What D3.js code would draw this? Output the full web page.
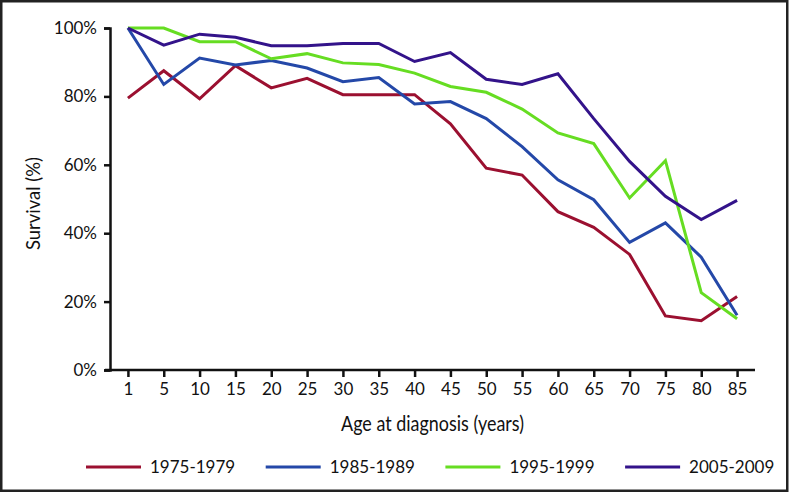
<!DOCTYPE html>
<html><head><meta charset="utf-8">
<script src="https://cdn.jsdelivr.net/npm/d3@7"></script>
<style>body{margin:0;background:#fff}svg{display:block}</style>
</head><body>
<svg id="c" width="790" height="493"></svg>
<script>
const ages = ["1","5","10","15","20","25","30","35","40","45","50","55","60","65","70","75","80","85"];
const periods = ["1975-1979","1985-1989","1995-1999","2005-2009"];
const s1975 = [79.5,87.5,79.3,89,82.5,85.3,80.5,80.5,80.5,72,59,57,46.3,41.7,33.8,15.8,14.4,21.5];
const s1985 = [100,83.5,91.2,89.2,90.5,88.3,84.3,85.5,77.8,78.5,73.5,65.3,55.6,49.8,37.3,43,33,16];
const s1995 = [100,100,96,96,91,92.5,89.8,89.3,86.8,82.9,81.2,76.3,69.3,66.2,50.3,61.2,22.6,15];
const s2005 = [100,95,98.2,97.3,94.8,94.8,95.5,95.5,90.2,92.8,85,83.5,86.6,73.5,61,50.8,44,49.6];
const yTicks = [0,20,40,60,80,100];
const colors = ["#9b1030","#2448a8","#66dd22","#33138a"];
const seriesList = [s1975,s1985,s1995,s2005];

(function(){
const svg = d3.select("#c");
svg.append("rect").attr("x",1.25).attr("y",1.25).attr("width",786).attr("height",489.5)
  .attr("fill","#fff").attr("stroke","#222").attr("stroke-width",2.5);

const mL=110,mR=755,mT=28,mB=370;
const x = d3.scalePoint().domain(ages).range([mL,mR]).padding(0.5);
const y = d3.scaleLinear().domain([0,100]).range([mB,mT]);

const fontT = "Lato, 'Open Sans', sans-serif";
const gx = svg.append("g").attr("transform",`translate(0,${mB})`)
  .call(d3.axisBottom(x).tickSize(7).tickPadding(6));
const gy = svg.append("g").attr("transform",`translate(${mL},0)`)
  .call(d3.axisLeft(y).tickValues(yTicks).tickFormat(d=>d+"%").tickSize(6).tickPadding(7));
[gx,gy].forEach(g=>{
  g.select(".domain").attr("stroke","#111").attr("stroke-width",2.5);
  g.selectAll(".tick line").attr("stroke","#111").attr("stroke-width",2.5);
  g.selectAll(".tick text").attr("fill","#111").style("font-family",fontT).style("font-size","17px");
});
gx.select(".domain").attr("d",`M${mL-5},0H${mR}`);

const line = d3.line().x((d,i)=>x(ages[i])).y(d=>y(d));
seriesList.forEach((s,k)=>{
  svg.append("path").datum(s).attr("d",line).attr("fill","none")
    .attr("stroke",colors[k]).attr("stroke-width",3).attr("stroke-linejoin","miter");
});

svg.append("text").attr("x",341).attr("y",431)
  .attr("textLength",183).attr("lengthAdjust","spacingAndGlyphs")
  .style("font-family",fontT).style("font-size","21px")
  .attr("fill","#111").text("Age at diagnosis (years)");
svg.append("text").attr("transform","translate(40,250) rotate(-90)")
  .attr("textLength",93).attr("lengthAdjust","spacingAndGlyphs")
  .style("font-family",fontT).style("font-size","18.5px")
  .attr("fill","#111").text("Survival (%)");

const lg = svg.append("g");
periods.forEach((p,k)=>{
  const x0 = 86 + k*179.7;
  lg.append("line").attr("x1",x0).attr("x2",x0+55).attr("y1",467).attr("y2",467)
    .attr("stroke",colors[k]).attr("stroke-width",3);
  lg.append("text").attr("x",x0+64).attr("y",473).style("font-family",fontT).style("font-size","17px")
    .attr("fill","#111").text(p);
});
})();
</script>
</body></html>
